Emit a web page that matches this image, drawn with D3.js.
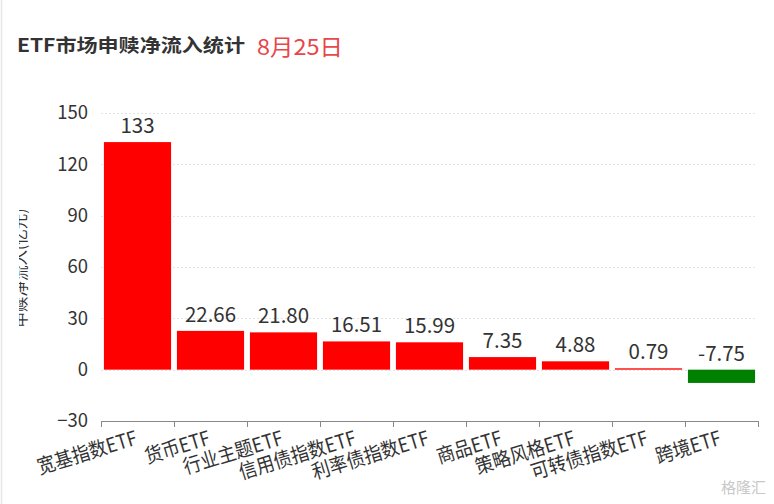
<!DOCTYPE html>
<html><head><meta charset="utf-8">
<script src="https://cdn.jsdelivr.net/npm/d3@7"></script>
<style>
html,body{margin:0;padding:0;background:#fff;}
svg{display:block;font-family:"Noto Sans CJK SC","Microsoft YaHei",sans-serif;}
</style></head>
<body>
<svg id="c" width="774" height="504"></svg>
<script>
const categories = ["宽基指数ETF","货币ETF","行业主题ETF","信用债指数ETF","利率债指数ETF","商品ETF","策略风格ETF","可转债指数ETF","跨境ETF"];
const values = [133, 22.66, 21.80, 16.51, 15.99, 7.35, 4.88, 0.79, -7.75];
const labels = ["133","22.66","21.80","16.51","15.99","7.35","4.88","0.79","-7.75"];
const yTicks = [-30, 0, 30, 60, 90, 120, 150];
const titleText = "ETF市场申赎净流入统计";
const dateText = "8月25日";
const yTitle = "申赎净流入(亿元)";

const svg = d3.select("#c");
const W = 774, H = 504;
const x = d3.scaleBand().domain(categories).range([101, 758]).paddingInner(0.08).paddingOuter(0.04);
const y = d3.scaleLinear().domain([-30, 150]).range([421, 113]);

// left border
svg.append("line").attr("x1",1.5).attr("x2",1.5).attr("y1",0).attr("y2",H).attr("stroke","#e6e6e6").attr("stroke-width",1.5);

// title
svg.append("text").attr("x",17).attr("y",52).attr("font-size",18.5).attr("font-weight","bold").attr("fill","#333")
  .attr("textLength",228).attr("lengthAdjust","spacingAndGlyphs").text(titleText);
svg.append("text").attr("x",257).attr("y",55).attr("font-size",22).attr("fill","#e8474a")
  .attr("textLength",86).attr("lengthAdjust","spacingAndGlyphs").text(dateText);

// grid
svg.append("g").selectAll("line").data(yTicks.filter(d=>d>-30)).join("line")
  .attr("x1",101).attr("x2",756).attr("y1",d=>Math.round(y(d))+0.5).attr("y2",d=>Math.round(y(d))+0.5)
  .attr("stroke","#e3e3e3").attr("stroke-dasharray","2,2");

// y axis labels
const yAxis = d3.axisLeft(y).tickValues(yTicks).tickSize(0).tickPadding(0);
const yg = svg.append("g").attr("transform","translate(88,0)").call(yAxis);
yg.select(".domain").remove();
yg.selectAll("text").attr("font-size",18.5).attr("fill","#333").attr("font-family","Noto Sans CJK SC, sans-serif");

// y title (clipped)
svg.append("clipPath").attr("id","yclip").append("rect").attr("x",19).attr("y",150).attr("width",20).attr("height",250);
svg.append("g").attr("clip-path","url(#yclip)")
  .append("text")
  .attr("transform","translate(26,268) rotate(-90)").attr("text-anchor","middle")
  .attr("font-size",15.5).attr("fill","#333").text(yTitle);

// bars
svg.append("g").selectAll("rect").data(values).join("rect")
  .attr("x",(d,i)=>x(categories[i]))
  .attr("width",x.bandwidth())
  .attr("y",d=>y(Math.max(0,d)))
  .attr("height",d=>Math.max(1.2,Math.abs(y(d)-y(0))))
  .attr("fill",d=>d>=0?"#ff0000":"#008000");

// value labels
svg.append("g").selectAll("text").data(values).join("text")
  .attr("x",(d,i)=>x(categories[i])+x.bandwidth()/2)
  .attr("y",d=>y(Math.max(0,d))-9)
  .attr("text-anchor","middle").attr("font-size",20.5).attr("fill","#333")
  .text((d,i)=>labels[i]);

// x axis
const xAxis = d3.axisBottom(x).tickSize(0);
const xg = svg.append("g").attr("transform","translate(0,421)").call(xAxis);
xg.select(".domain").attr("d","M101,0.5H758").attr("stroke","#888");
xg.selectAll(".tick line").remove();
const edges = d3.range(categories.length+1).map(i=>101+i*(657/categories.length));
svg.append("g").selectAll("line").data(edges).join("line")
  .attr("x1",d=>Math.round(d)+0.5).attr("x2",d=>Math.round(d)+0.5).attr("y1",421).attr("y2",427)
  .attr("stroke","#888");
xg.selectAll(".tick text")
  .attr("font-size",20).attr("fill","#333").attr("font-family","Noto Sans CJK SC, sans-serif")
  .attr("text-anchor","end").attr("dy",0).attr("y",0)
  .attr("transform","translate(1,23) rotate(-17) scale(0.9,1)");

// watermark
svg.append("text").attr("x",766).attr("y",493).attr("text-anchor","end").attr("font-size",15).attr("fill","#c8c8c8").text("格隆汇");
</script>
</body></html>
